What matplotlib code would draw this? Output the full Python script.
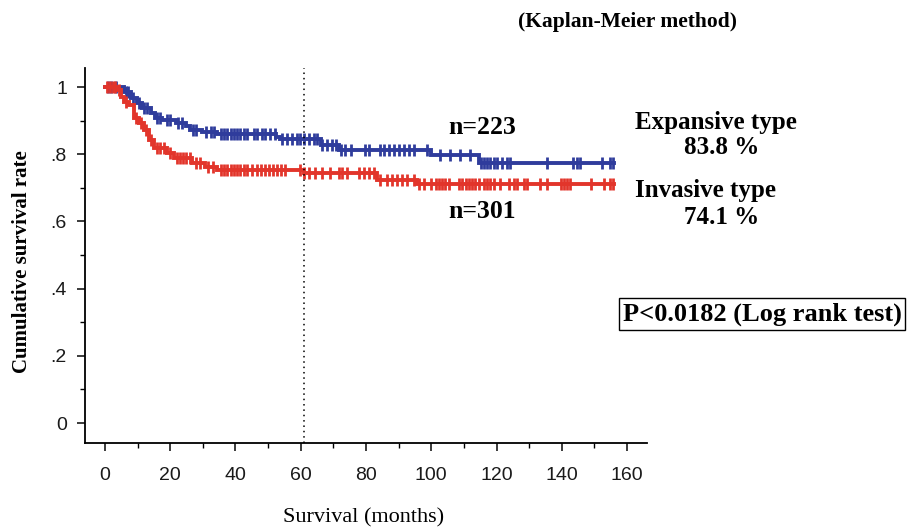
import numpy as np
import matplotlib.pyplot as plt
from matplotlib.ticker import MultipleLocator

# Kaplan-Meier step data (months, cumulative survival)
blue_t = [0, 5.8, 7.9, 9.9, 11.4, 14.0, 15.5, 17.6, 21.7, 24.7, 26.2, 29.8, 34.4,
          52.5, 53.8, 66.1, 71.7, 99.8, 114.5, 155.9]
blue_s = [1.0, 0.987, 0.967, 0.952, 0.937, 0.923, 0.908, 0.901, 0.893, 0.883, 0.871,
          0.866, 0.860, 0.852, 0.845, 0.828, 0.814, 0.799, 0.775, 0.775]

red_t = [0, 3.8, 4.8, 5.8, 7.4, 8.9, 10.4, 11.9, 13.5, 15.0, 19.1, 21.1, 26.8,
         30.8, 34.4, 61.0, 83.4, 95.7, 155.9]
red_s = [1.0, 0.992, 0.972, 0.957, 0.947, 0.908, 0.893, 0.873, 0.843, 0.818, 0.804,
         0.789, 0.774, 0.761, 0.752, 0.743, 0.723, 0.711, 0.711]

# censored observations
blue_cens = [1, 2, 3.5, 6.5, 7, 8.5, 10.5, 12, 13, 16, 17, 19, 20, 22.5, 23.5, 27, 28,
             31, 32.5, 33.5, 35.5, 36.5, 37.5, 38.5, 39.5, 40.5, 41.5, 42.5, 43.5,
             45.6, 46.7, 48.2, 49.2, 50.5, 52, 54.3, 55.9, 57.4, 58.9, 59.9, 61.0,
             62.5, 64.0, 65.1, 66.6, 68.1, 69.6, 70.7, 72.2, 73.7, 75.3, 79.8, 80.9,
             84.4, 85.5, 87.0, 88.5, 90.0, 91.6, 93.1, 94.6, 98.7, 102.8, 105.7,
             108.9, 111.8, 115.1, 116.1, 117.1, 118.1, 119.1, 120.2, 121.7, 123.2,
             124.0, 135.5, 143.5, 144.5, 145.5, 152.3, 154.9, 155.7]
red_cens = [0.5, 1.5, 2.5, 3.2, 4.3, 6.5, 9.5, 11, 12.5, 14, 16, 17, 18, 20, 22, 23,
            24, 25, 26, 28, 29, 31.5, 33, 35.5, 36.5, 37.5, 38.5, 39.5, 40.5, 41.5,
            42.5, 43.5, 45.1, 46.5, 47.7, 49.2, 50.2, 51.6, 52.8, 54.0, 55.3, 59.9,
            61.0, 62.5, 64.5, 66.6, 69.1, 71.7, 72.7, 74.2, 77.8, 79.3, 80.9, 82.4,
            84.4, 86.5, 88.0, 89.6, 91.1, 92.6, 94.6, 96.2, 97.7, 99.8, 101.3, 102.3,
            103.3, 104.3, 105.4, 108.4, 109.5, 110.5, 111.5, 112.5, 113.5, 114.5,
            116.1, 117.1, 118.1, 119.1, 121.2, 123.7, 125.3, 126.3, 128.3, 129.4,
            133.4, 135.5, 139.6, 140.6, 141.6, 142.6, 148.8, 152.8, 154.9, 155.7]

y_ticks = [0, 0.2, 0.4, 0.6, 0.8, 1.0]
y_ticklabels = ['0', '.2', '.4', '.6', '.8', '1']
x_ticks = [0, 20, 40, 60, 80, 100, 120, 140, 160]

BLUE = '#2f3c9c'
RED = '#e2352b'
W, H = 917, 532


def step_value(times, surv, t):
    idx = np.searchsorted(times, t, side='right') - 1
    return np.asarray(surv)[idx]


fig = plt.figure(figsize=(W / 100, H / 100), dpi=100)
ax = fig.add_axes([85 / W, 1 - 443 / H, (647 - 85) / W, (443 - 68) / H])

for t, s, c, cens in [(blue_t, blue_s, BLUE, blue_cens), (red_t, red_s, RED, red_cens)]:
    ax.plot(t, s, drawstyle='steps-post', color=c, lw=2.8, solid_joinstyle='miter')
    ax.plot(cens, step_value(t, s, cens), ls='none', marker='|', ms=8, mew=2.0, color=c)

ax.axvline(61, color='black', lw=1.1, ls=(0, (1, 2.5)))

ax.set_xlim(-6.1, 166.1)
ax.set_ylim(-0.0595, 1.057)
ax.set_xticks(x_ticks)
ax.set_yticks(y_ticks)
ax.set_yticklabels(y_ticklabels)
ax.xaxis.set_minor_locator(MultipleLocator(10))
ax.yaxis.set_minor_locator(MultipleLocator(0.1))
for s in ['top', 'right']:
    ax.spines[s].set_visible(False)
for s in ['left', 'bottom']:
    ax.spines[s].set_linewidth(1.3)
ax.tick_params(which='major', direction='out', length=6, width=1.2,
               labelsize=14, colors='#1a1a1a')
ax.tick_params(which='minor', direction='out', length=3.5, width=1.0)
ax.tick_params(axis='x', pad=11)
ax.tick_params(axis='y', pad=7)
for lab in ax.get_xticklabels() + ax.get_yticklabels():
    lab.set_fontfamily('Liberation Sans')

serif = 'Liberation Serif'


def ftext(x, y, s, **kw):
    kw.setdefault('family', serif)
    kw.setdefault('weight', 'bold')
    kw.setdefault('va', 'center')
    return fig.text(x / W, 1 - y / H, s, **kw)


ftext(628, 22, '(Kaplan-Meier method)', size=15.5, ha='center')
ftext(482, 127, 'n=223', size=18.5, ha='center')
ftext(482, 212, 'n=301', size=18.5, ha='center')
ftext(635, 122, 'Expansive type', size=18, ha='left')
ftext(722, 148, '83.8 %', size=18, ha='center')
ftext(635, 191, 'Invasive type', size=18, ha='left')
ftext(722, 218, '74.1 %', size=18, ha='center')
ftext(762, 314, 'P<0.0182 (Log rank test)', size=19, ha='center',
      bbox=dict(boxstyle='square,pad=0.15', fc='white', ec='black', lw=1.0))
ftext(22, 262, 'Cumulative survival rate', size=15, ha='center', rotation=90)
ftext(364, 518, 'Survival (months)', size=16, ha='center', weight='normal')

fig.savefig('out.png', dpi=100)
